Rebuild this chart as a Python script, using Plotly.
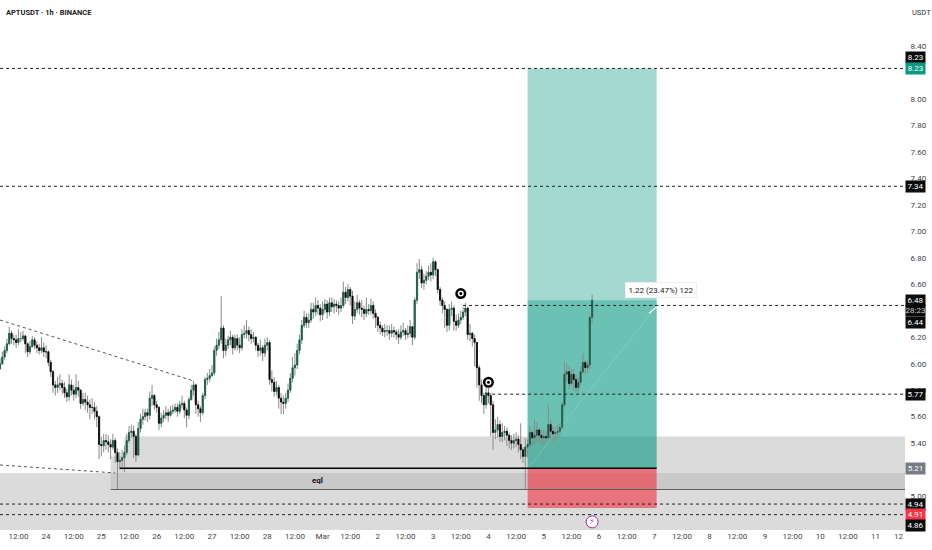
import pandas as pd
import plotly.graph_objects as go

# Candele orarie, un rigo per giorno
START = "2025-02-23 04:00"
FIRST_OPEN = 5.96

closes = [
    6.00, 6.05, 6.10, 6.15, 6.23, 6.19, 6.18, 6.16, 6.19, 6.19, 6.21, 6.15, 6.09, 6.13, 6.18, 6.14, 6.12, 6.10, 6.12, 6.09,
    6.09, 6.01, 5.94, 5.84, 5.82, 5.84, 5.85, 5.82, 5.78, 5.75, 5.84, 5.80, 5.77, 5.82, 5.80, 5.70, 5.73, 5.71, 5.69, 5.67, 5.67, 5.64, 5.60, 5.39,
    5.38, 5.42, 5.41, 5.39, 5.37, 5.42, 5.33, 5.26, 5.27, 5.29, 5.33, 5.42, 5.48, 5.49, 5.45, 5.31, 5.51, 5.58, 5.60, 5.63, 5.61, 5.74, 5.76, 5.69,
    5.67, 5.55, 5.59, 5.61, 5.63, 5.61, 5.64, 5.65, 5.67, 5.64, 5.69, 5.70, 5.65, 5.61, 5.73, 5.80, 5.84, 5.69, 5.66, 5.63, 5.76, 5.88, 5.89, 5.91,
    5.93, 6.10, 6.14, 6.18, 6.27, 6.10, 6.14, 6.18, 6.20, 6.12, 6.19, 6.14, 6.12, 6.22, 6.23, 6.25, 6.22, 6.19, 6.20, 6.14, 6.10, 6.12, 6.08, 6.14,
    6.16, 5.88, 5.86, 5.79, 5.82, 5.74, 5.71, 5.70, 5.74, 5.80, 5.89, 5.97, 5.99, 6.10, 6.18, 6.29, 6.35, 6.31, 6.33, 6.41, 6.39, 6.44, 6.42, 6.37,
    6.41, 6.45, 6.39, 6.46, 6.43, 6.45, 6.44, 6.42, 6.44, 6.54, 6.50, 6.56, 6.51, 6.36, 6.41, 6.46, 6.42, 6.41, 6.38, 6.41, 6.40, 6.44, 6.38, 6.35,
    6.29, 6.27, 6.24, 6.25, 6.25, 6.23, 6.25, 6.24, 6.22, 6.20, 6.24, 6.25, 6.22, 6.23, 6.28, 6.20, 6.48, 6.69, 6.71, 6.61, 6.63, 6.66, 6.69, 6.67,
    6.77, 6.71, 6.56, 6.48, 6.44, 6.41, 6.29, 6.41, 6.42, 6.32, 6.29, 6.33, 6.35, 6.39, 6.42, 6.22, 6.23, 6.19, 6.16, 5.97, 5.84, 5.76, 5.69, 5.78,
    5.76, 5.69, 5.48, 5.50, 5.54, 5.45, 5.48, 5.49, 5.46, 5.42, 5.40, 5.42, 5.43, 5.39, 5.35, 5.30, 5.37, 5.39, 5.48, 5.44, 5.46, 5.50, 5.46, 5.44,
    5.45, 5.44, 5.54, 5.49, 5.47, 5.48, 5.49, 5.52, 5.69, 5.92, 5.94, 5.85, 5.92, 5.88, 5.82, 5.86, 5.94, 6.01, 5.97, 5.99, 6.35, 6.48,
]
highs = [
    6.04, 6.09, 6.13, 6.19, 6.28, 6.25, 6.22, 6.22, 6.26, 6.24, 6.25, 6.22, 6.16, 6.17, 6.21, 6.20, 6.17, 6.15, 6.20, 6.16,
    6.14, 6.10, 6.03, 5.95, 5.87, 5.90, 5.92, 5.88, 5.86, 5.81, 5.92, 5.88, 5.84, 5.92, 5.87, 5.81, 5.78, 5.78, 5.76, 5.73, 5.74, 5.71, 5.68, 5.61,
    5.45, 5.47, 5.47, 5.46, 5.43, 5.47, 5.44, 5.36, 5.33, 5.35, 5.38, 5.47, 5.53, 5.54, 5.53, 5.47, 5.56, 5.62, 5.66, 5.66, 5.66, 5.79, 5.84, 5.77,
    5.72, 5.68, 5.63, 5.65, 5.68, 5.66, 5.68, 5.69, 5.70, 5.70, 5.72, 5.76, 5.72, 5.67, 5.75, 5.84, 5.87, 5.85, 5.72, 5.68, 5.78, 5.90, 5.93, 5.96,
    5.99, 6.13, 6.19, 6.24, 6.51, 6.29, 6.19, 6.21, 6.25, 6.22, 6.22, 6.22, 6.20, 6.26, 6.29, 6.33, 6.28, 6.26, 6.24, 6.21, 6.16, 6.18, 6.14, 6.19,
    6.20, 6.18, 5.95, 5.90, 5.87, 5.84, 5.78, 5.76, 5.78, 5.85, 5.93, 6.05, 6.08, 6.15, 6.22, 6.33, 6.40, 6.38, 6.38, 6.46, 6.46, 6.50, 6.48, 6.45,
    6.47, 6.49, 6.48, 6.50, 6.50, 6.49, 6.48, 6.47, 6.50, 6.62, 6.58, 6.60, 6.58, 6.55, 6.47, 6.52, 6.48, 6.48, 6.44, 6.50, 6.45, 6.49, 6.47, 6.41,
    6.36, 6.32, 6.29, 6.30, 6.29, 6.29, 6.30, 6.28, 6.26, 6.26, 6.29, 6.31, 6.27, 6.29, 6.33, 6.28, 6.50, 6.76, 6.79, 6.74, 6.68, 6.70, 6.74, 6.76,
    6.80, 6.78, 6.72, 6.58, 6.50, 6.47, 6.42, 6.45, 6.47, 6.44, 6.37, 6.38, 6.40, 6.43, 6.46, 6.43, 6.30, 6.24, 6.22, 6.16, 5.99, 5.88, 5.78, 5.83,
    5.82, 5.78, 5.72, 5.58, 5.60, 5.57, 5.55, 5.53, 5.52, 5.48, 5.46, 5.47, 5.48, 5.46, 5.55, 5.37, 5.44, 5.43, 5.53, 5.50, 5.58, 5.56, 5.52, 5.50,
    5.50, 5.49, 5.69, 5.58, 5.53, 5.52, 5.54, 5.55, 5.71, 6.01, 6.00, 5.98, 5.96, 5.96, 5.92, 5.90, 5.98, 6.08, 6.03, 6.02, 6.37, 6.52,
]
lows = [
    5.97, 5.99, 6.03, 6.08, 6.14, 6.15, 6.14, 6.12, 6.14, 6.16, 6.17, 6.08, 6.05, 6.07, 6.12, 6.11, 6.08, 6.07, 6.08, 6.05,
    6.04, 5.98, 5.90, 5.78, 5.76, 5.78, 5.80, 5.77, 5.74, 5.71, 5.72, 5.76, 5.72, 5.74, 5.75, 5.66, 5.68, 5.65, 5.63, 5.58, 5.62, 5.58, 5.52, 5.28,
    5.30, 5.33, 5.35, 5.33, 5.28, 5.35, 5.25, 5.05, 5.20, 5.22, 5.18, 5.31, 5.40, 5.44, 5.29, 5.26, 5.30, 5.48, 5.54, 5.57, 5.56, 5.58, 5.68, 5.65,
    5.63, 5.50, 5.52, 5.56, 5.58, 5.56, 5.60, 5.62, 5.63, 5.60, 5.62, 5.66, 5.59, 5.52, 5.58, 5.72, 5.76, 5.62, 5.60, 5.56, 5.61, 5.73, 5.84, 5.86,
    5.90, 5.91, 6.06, 6.11, 6.15, 6.04, 6.06, 6.11, 6.14, 6.07, 6.10, 6.10, 6.08, 6.10, 6.19, 6.19, 6.17, 6.15, 6.16, 6.10, 6.05, 6.06, 6.02, 6.05,
    6.10, 5.84, 5.79, 5.75, 5.76, 5.66, 5.62, 5.62, 5.66, 5.71, 5.78, 5.86, 5.91, 5.96, 6.07, 6.15, 6.27, 6.27, 6.27, 6.31, 6.34, 6.36, 6.37, 6.32,
    6.33, 6.38, 6.34, 6.36, 6.39, 6.38, 6.39, 6.37, 6.39, 6.42, 6.45, 6.47, 6.44, 6.30, 6.33, 6.38, 6.37, 6.35, 6.33, 6.35, 6.37, 6.37, 6.34, 6.27,
    6.24, 6.22, 6.21, 6.20, 6.21, 6.18, 6.20, 6.20, 6.18, 6.15, 6.18, 6.21, 6.18, 6.19, 6.20, 6.14, 6.18, 6.45, 6.64, 6.57, 6.56, 6.60, 6.63, 6.62,
    6.64, 6.66, 6.53, 6.44, 6.38, 6.27, 6.24, 6.25, 6.36, 6.25, 6.25, 6.27, 6.30, 6.33, 6.36, 6.18, 6.17, 6.13, 5.98, 5.82, 5.72, 5.70, 5.62, 5.66,
    5.70, 5.45, 5.35, 5.43, 5.44, 5.41, 5.41, 5.42, 5.38, 5.36, 5.35, 5.36, 5.37, 5.33, 5.28, 5.25, 5.05, 5.29, 5.37, 5.38, 5.39, 5.41, 5.41, 5.39,
    5.39, 5.40, 5.43, 5.42, 5.41, 5.43, 5.44, 5.46, 5.50, 5.67, 5.86, 5.81, 5.83, 5.80, 5.78, 5.79, 5.84, 5.92, 5.92, 5.93, 5.96, 6.30,
]

# Assi
x_start = "2025-02-23 04:00"
x_end = "2025-03-11 12:48"
y_bottom = 4.744
y_top = 8.747
price_ticks = [5.0, 5.4, 5.6, 5.8, 6.0, 6.2, 6.6, 6.8, 7.0, 7.2, 7.4, 7.6, 7.8, 8.0, 8.4]
day_ticks = [("02-24", "24"), ("02-25", "25"), ("02-26", "26"), ("02-27", "27"), ("02-28", "28"),
             ("03-01", "Mar"), ("03-02", "2"), ("03-03", "3"), ("03-04", "4"), ("03-05", "5"),
             ("03-06", "6"), ("03-07", "7"), ("03-08", "8"), ("03-09", "9"), ("03-10", "10"), ("03-11", "11")]

# Livelli disegnati
target_price = 8.23
entry_price = 5.21
stop_price = 4.91
last_price = 6.48
full_levels = [8.23, 7.34, 4.94, 4.86]
part_levels = [("2025-03-03 13:00", 6.44), ("2025-03-03 23:00", 5.77)]
pos_start = "2025-03-04 17:00"
pos_end = "2025-03-07 01:00"

# Etichette sull'asse dei prezzi: testo, prezzo, spostamento, sfondo, colore testo
badges = [
    ("8.23", 8.23, 11, "#0b0b0b", "#ffffff"),
    ("8.23", 8.23, 0, "#089981", "#ffffff"),
    ("7.34", 7.34, 0, "#0b0b0b", "#ffffff"),
    ("6.48", 6.48, 0, "#0b0b0b", "#ffffff"),
    ("28:23", 6.40, 0, "#0b0b0b", "#c8c8c8"),
    ("6.44", 6.44, -17, "#0b0b0b", "#ffffff"),
    ("5.77", 5.77, 0, "#0b0b0b", "#ffffff"),
    ("5.21", 5.21, 0, "#787b86", "#ffffff"),
    ("4.94", 4.94, 0, "#0b0b0b", "#ffffff"),
    ("4.91", 4.91, -6, "#f23645", "#ffffff"),
    ("4.86", 4.86, -11, "#0b0b0b", "#ffffff"),
]

FONT = "Roboto, Liberation Sans, sans-serif"

times = pd.date_range(START, periods=len(closes), freq="h")
opens = [FIRST_OPEN] + closes[:-1]
body_hi = [max(o, c) for o, c in zip(opens, closes)]
body_lo = [min(o, c) for o, c in zip(opens, closes)]

fig = go.Figure()

# Prima gli stoppini grigi, poi i corpi
fig.add_trace(go.Candlestick(
    x=times, open=opens, high=highs, low=lows, close=closes, name="wick",
    whiskerwidth=0,
    increasing=dict(line=dict(color="#8a8a8a", width=1), fillcolor="#8a8a8a"),
    decreasing=dict(line=dict(color="#8a8a8a", width=1), fillcolor="#8a8a8a"),
))
fig.add_trace(go.Candlestick(
    x=times, open=opens, high=body_hi, low=body_lo, close=closes, name="body",
    whiskerwidth=0,
    increasing=dict(line=dict(color="#0e5f48", width=0.6), fillcolor="#0e5f48"),
    decreasing=dict(line=dict(color="#000000", width=0.6), fillcolor="#000000"),
))

# Occhi sui massimi
eye_x = ["2025-03-03 12:00", "2025-03-04 00:00"]
eye_y = [6.53, 5.86]
fig.add_trace(go.Scatter(x=eye_x, y=eye_y, mode="markers", marker=dict(size=11, color="#000000")))
fig.add_trace(go.Scatter(x=eye_x, y=eye_y, mode="markers", marker=dict(size=6, color="#ffffff")))
fig.add_trace(go.Scatter(x=eye_x, y=eye_y, mode="markers", marker=dict(size=3, color="#000000")))

# Icona lampo in basso
fig.add_trace(go.Scatter(
    x=["2025-03-05 21:00"], y=[4.805], mode="markers+text", text=["⚡"],
    textposition="middle center", textfont=dict(size=8, color="#9c27b0", family="DejaVu Sans"),
    marker=dict(size=12, color="#ffffff", line=dict(color="#9c27b0", width=1)),
))

# Zone grigie, la fascia di sovrapposizione e' a parte per controllarne il tono
zone = "rgba(0,0,0,0.14)"
overlap = "rgba(0,0,0,0.21)"
zone_left = "2025-02-25 04:00"
zone_step = "2025-02-25 10:00"
fig.add_shape(type="rect", x0=x_start, x1=x_end, y0=y_bottom, y1=5.05, fillcolor=zone, line_width=0, layer="below")
fig.add_shape(type="rect", x0=x_start, x1=zone_left, y0=5.05, y1=5.175, fillcolor=zone, line_width=0, layer="below")
fig.add_shape(type="rect", x0=zone_left, x1=x_end, y0=5.05, y1=5.175, fillcolor=overlap, line_width=0, layer="below")
fig.add_shape(type="rect", x0=zone_step, x1=x_end, y0=5.175, y1=5.45, fillcolor=zone, line_width=0, layer="below")
fig.add_shape(type="rect", x0=zone_left, x1=zone_step, y0=5.175, y1=5.30, fillcolor=zone, line_width=0, layer="below")

# Posizione long
teal = "rgba(8,153,129,0.37)"
fig.add_shape(type="rect", x0=pos_start, x1=pos_end, y0=entry_price, y1=target_price, fillcolor=teal, line_width=0, layer="below")
fig.add_shape(type="rect", x0=pos_start, x1=pos_end, y0=entry_price, y1=last_price, fillcolor=teal, line_width=0, layer="below")
fig.add_shape(type="rect", x0=pos_start, x1=pos_end, y0=stop_price, y1=entry_price, fillcolor="rgba(242,54,69,0.62)", line_width=0, layer="below")

# Linea diagonale del trade
fig.add_shape(type="line", x0=pos_start, x1=pos_end, y0=entry_price, y1=6.43, line=dict(color="rgba(255,255,255,0.16)", width=1))
fig.add_shape(type="line", x0="2025-03-06 21:40", x1=pos_end, y0=6.38, y1=6.43, line=dict(color="#ffffff", width=1.2))

# Livelli orizzontali
dash = dict(color="#222222", width=1, dash="3px,3px")
for level in full_levels:
    fig.add_shape(type="line", x0=x_start, x1=x_end, y0=level, y1=level, line=dash)
for start, level in part_levels:
    fig.add_shape(type="line", x0=start, x1=x_end, y0=level, y1=level, line=dash)

fig.add_shape(type="line", x0="2025-02-25 08:00", x1=pos_end, y0=entry_price, y1=entry_price, line=dict(color="#000000", width=1.5))
fig.add_shape(type="line", x0=zone_left, x1=x_end, y0=5.05, y1=5.05, line=dict(color="#5f5f5f", width=1.2))

# Trendline tratteggiate
trend = dict(color="#555555", width=1, dash="3px,3px")
fig.add_shape(type="line", x0=x_start, x1="2025-02-26 16:00", y0=6.33, y1=5.87, line=trend)
fig.add_shape(type="line", x0=x_start, x1="2025-02-25 06:00", y0=5.235, y1=5.175, line=trend)

fig.add_annotation(x="2025-02-28 22:00", y=5.115, text="<b>eql</b>", showarrow=False,
                   font=dict(size=8, color="#111111", family=FONT))
fig.add_annotation(x="2025-03-07 03:00", y=6.56, text="1.22 (23.47%) 122", showarrow=False,
                   bgcolor="#ffffff", bordercolor="#efefef", borderwidth=1, borderpad=1,
                   width=68, height=12, font=dict(size=8, color="#131722", family=FONT))

# Titolo e valuta
fig.add_annotation(xref="paper", yref="paper", x=0.004, y=1, yshift=-6, xanchor="left", yanchor="top",
                   text="<b>APTUSDT · 1h · BINANCE</b>", showarrow=False, font=dict(size=7.5, color="#222222", family=FONT))
fig.add_annotation(xref="paper", yref="paper", x=1, y=1, xshift=5, yshift=-6, xanchor="left", yanchor="top",
                   text="USDT", showarrow=False, font=dict(size=7.5, color="#333333", family=FONT))

for text, price, shift, bg, fg in badges:
    fig.add_annotation(xref="paper", yref="y", x=1, y=price, yshift=shift, xanchor="left", text=text,
                       showarrow=False, bgcolor=bg, width=19, height=11, borderpad=0, align="center",
                       font=dict(size=8, color=fg, family=FONT))

tick_vals = [f"2025-{d} 00:00" for d, _ in day_ticks]
tick_text = [t for _, t in day_ticks]
for noon in pd.date_range("2025-02-23 12:00", "2025-03-10 12:00", freq="D"):
    tick_vals.append(noon.strftime("%Y-%m-%d %H:%M"))
    tick_text.append("12:00")
# L'ultima etichetta e' tagliata dal bordo
tick_vals.append("2025-03-11 10:00")
tick_text.append("12")

fig.update_layout(
    width=932, height=550,
    margin=dict(l=0, r=27, t=0, b=20),
    paper_bgcolor="#ffffff",
    plot_bgcolor="#ffffff",
    showlegend=False,
    font=dict(family=FONT, size=8, color="#444444"),
    xaxis=dict(range=[x_start, x_end], type="date", rangeslider=dict(visible=False), showgrid=False, zeroline=False,
               tickmode="array", tickvals=tick_vals, ticktext=tick_text, ticks="", tickangle=0,
               tickfont=dict(size=8, color="#444444", family=FONT), showline=False),
    yaxis=dict(range=[y_bottom, y_top], side="right", showgrid=False, zeroline=False,
               tickmode="array", tickvals=price_ticks, ticktext=[f"{p:.2f}" for p in price_ticks],
               ticks="outside", ticklen=3, tickcolor="#ffffff", tickfont=dict(size=8, color="#444444", family=FONT),
               showline=False),
)

# La pagina ha un margine di default: lo tolgo cosi' il grafico parte da 0,0
fig.write_html("out.html", config=dict(displayModeBar=False),
               post_script="document.body.style.margin='0';document.body.style.overflow='hidden';")
